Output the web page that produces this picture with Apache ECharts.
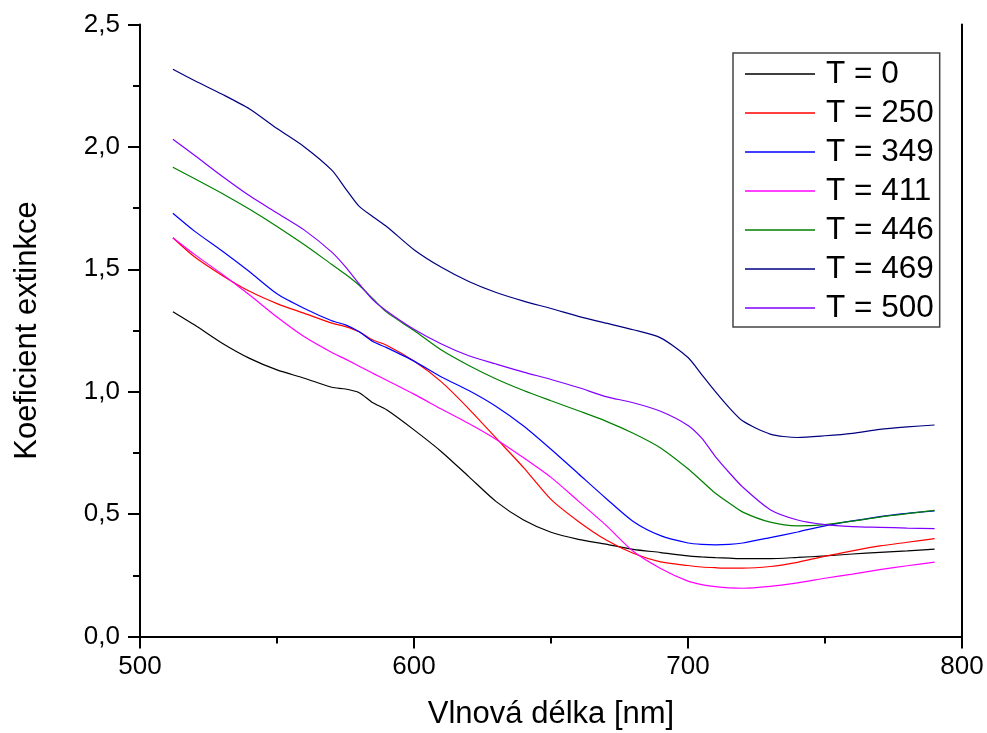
<!DOCTYPE html>
<html><head><meta charset="utf-8">
<script src="https://cdn.jsdelivr.net/npm/echarts@6/dist/echarts.min.js"></script>
<style>html,body{margin:0;padding:0;background:#fff}#c{width:987px;height:733px}</style>
</head><body><div id="c"></div><script>
// wavelength [nm]
const wavelengths = [512,520,530,540,550,560,570,575,580,585,590,600,610,620,630,640,650,660,670,680,690,700,705,710,715,720,730,740,750,760,770,780,790];
const names = ['T = 0','T = 250','T = 349','T = 411','T = 446','T = 469','T = 500'];
const colors = ['#000000','#ff0000','#0000ff','#ff00ff','#008000','#000080','#8000ff'];
const t0   = [1.327,1.272,1.198,1.136,1.089,1.055,1.018,1.011,0.996,0.955,0.926,0.844,0.755,0.653,0.551,0.476,0.426,0.397,0.377,0.356,0.343,0.329,0.325,0.322,0.320,0.318,0.318,0.323,0.329,0.337,0.344,0.350,0.357];
const t250 = [1.629,1.55,1.475,1.41,1.36,1.32,1.28,1.266,1.245,1.211,1.19,1.125,1.04,0.93,0.81,0.69,0.56,0.47,0.395,0.34,0.305,0.29,0.284,0.281,0.279,0.279,0.286,0.303,0.328,0.35,0.37,0.385,0.40];
const t349 = [1.729,1.655,1.575,1.49,1.40,1.34,1.29,1.273,1.245,1.205,1.18,1.125,1.06,1.005,0.94,0.86,0.765,0.665,0.565,0.47,0.412,0.382,0.376,0.374,0.376,0.382,0.404,0.427,0.452,0.472,0.49,0.503,0.513];
const t411 = [1.629,1.56,1.48,1.395,1.305,1.224,1.16,1.133,1.104,1.075,1.047,0.99,0.929,0.87,0.805,0.73,0.65,0.553,0.455,0.348,0.278,0.226,0.212,0.204,0.199,0.197,0.205,0.219,0.238,0.255,0.273,0.289,0.304];
const t446 = [1.917,1.87,1.81,1.745,1.675,1.60,1.52,1.48,1.435,1.38,1.325,1.25,1.17,1.107,1.052,1.005,0.963,0.922,0.88,0.83,0.77,0.685,0.635,0.585,0.545,0.508,0.467,0.452,0.457,0.471,0.488,0.502,0.515];
const t469 = [2.317,2.27,2.215,2.155,2.075,2.00,1.905,1.83,1.757,1.715,1.675,1.58,1.508,1.45,1.405,1.37,1.34,1.308,1.28,1.253,1.22,1.14,1.07,1.00,0.935,0.88,0.827,0.813,0.82,0.83,0.846,0.856,0.864];
const t500 = [2.031,1.965,1.88,1.80,1.73,1.66,1.57,1.51,1.44,1.375,1.33,1.255,1.195,1.147,1.113,1.08,1.05,1.017,0.98,0.955,0.92,0.862,0.81,0.735,0.67,0.61,0.518,0.476,0.457,0.449,0.446,0.443,0.441];
const allValues = [t0,t250,t349,t411,t446,t469,t500];

const FONT = 'Liberation Sans, Arial, sans-serif';
const chart = echarts.init(document.getElementById('c'), null, {renderer:'canvas'});
const axisLine = {show:true, lineStyle:{color:'#000', width:2}};
const series = allValues.map((vals, i) => ({
  name: names[i], type:'line', showSymbol:false, smooth:0.25,
  lineStyle:{color:colors[i], width:1.2}, itemStyle:{color:colors[i]},
  data: wavelengths.map((w, j) => [w, vals[j]]), z: 2
}));
chart.setOption({
  backgroundColor:'#fff',
  animation:false,
  grid:{left:140, right:25, top:24.5, bottom:96.5, containLabel:false, outerBoundsMode:'none'},
  legend:{
    orient:'vertical', left:733, top:53,
    data: names.map((n,i)=>({name:n, icon:'rect', itemStyle:{color:colors[i]}})),
    itemWidth:70, itemHeight:1.5, itemGap:7,
    padding:[5,6,3,12],
    borderColor:'#444', borderWidth:1.5, backgroundColor:'#fff',
    textStyle:{fontFamily:FONT, fontSize:31.5, color:'#000', lineHeight:32, padding:[0,0,0,6]}
  },
  xAxis:[{
    type:'value', min:500, max:800, interval:100, position:'bottom',
    name:'Vlnová délka [nm]', nameLocation:'middle', nameGap:62,
    nameTextStyle:{fontFamily:FONT, fontSize:31, color:'#000'},
    axisLine, axisTick:{show:true, inside:false, length:12, lineStyle:{color:'#000', width:2}},
    minorTick:{show:true, splitNumber:2, length:7, lineStyle:{color:'#000', width:2}},
    axisLabel:{fontFamily:FONT, fontSize:26, color:'#000', margin:17},
    splitLine:{show:false}
  },{
    type:'value', min:500, max:800, position:'top',
    axisLine, axisTick:{show:false}, axisLabel:{show:false}, splitLine:{show:false}
  }],
  yAxis:[{
    type:'value', min:0, max:2.5, interval:0.5, position:'left',
    name:'Koeficient extinkce', nameLocation:'middle', nameGap:97, nameRotate:90,
    nameTextStyle:{fontFamily:FONT, fontSize:31, color:'#000'},
    axisLine, axisTick:{show:true, inside:false, length:12, lineStyle:{color:'#000', width:2}},
    minorTick:{show:true, splitNumber:2, length:7, lineStyle:{color:'#000', width:2}},
    axisLabel:{fontFamily:FONT, fontSize:26, color:'#000', margin:20,
      formatter: v => v.toFixed(1).replace('.', ',')},
    splitLine:{show:false}
  },{
    type:'value', min:0, max:2.5, position:'right',
    axisLine, axisTick:{show:false}, axisLabel:{show:false}, splitLine:{show:false}
  }],
  series
});
</script></body></html>
